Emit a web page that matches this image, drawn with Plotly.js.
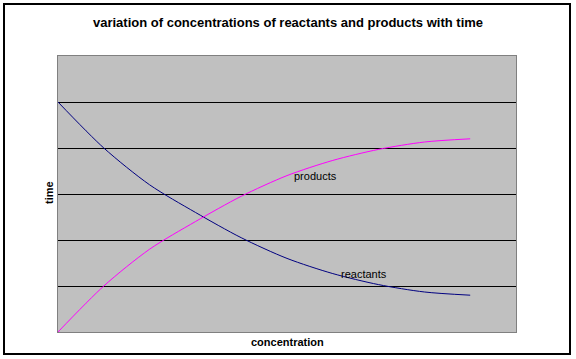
<!DOCTYPE html>
<html>
<head>
<meta charset="utf-8">
<script src="https://cdn.plot.ly/plotly-3.0.1.min.js"></script>
<style>
html,body{margin:0;padding:0;background:#fff;}
#chart{width:576px;height:359px;}
</style>
</head>
<body>
<div id="chart"></div>
<script>
// Data
var timeSteps = [0, 1, 2, 3, 4, 5, 6, 7, 8, 9];
var reactants = [5.0, 4.0, 3.2, 2.6, 2.05, 1.6, 1.27, 1.03, 0.87, 0.8];
var products  = [0.0, 1.0, 1.8, 2.4, 2.95, 3.4, 3.73, 3.97, 4.13, 4.2];
var gridVals = [1, 2, 3, 4, 5];

var W = 576, H = 359;
var L = 58, R = 60, T = 56, B = 27;
var pw = W - L - R, ph = H - T - B;
function px(x){ return (x - L) / pw; }
function py(y){ return (H - B - y) / ph; }

var font = "Liberation Sans, Arial, Helvetica, sans-serif";

var traces = [
  {x: timeSteps, y: reactants, type: 'scatter', mode: 'lines', name: 'reactants',
   line: {color: '#000080', width: 1, shape: 'spline', smoothing: 0.8}, hoverinfo: 'skip'},
  {x: timeSteps, y: products, type: 'scatter', mode: 'lines', name: 'products',
   line: {color: '#FF00FF', width: 1, shape: 'spline', smoothing: 0.8}, hoverinfo: 'skip'}
];

var layout = {
  width: W, height: H,
  margin: {l: L, r: R, t: T, b: B, pad: 0},
  paper_bgcolor: '#ffffff',
  plot_bgcolor: '#C0C0C0',
  showlegend: false,
  title: {text: '<b>variation of concentrations of reactants and products with time</b>',
          font: {family: font, size: 13, color: '#000'},
          x: 0.5, xanchor: 'center', xref: 'container', y: 1 - 22/H, yanchor: 'middle'},
  xaxis: {range: [0, 10], showgrid: false, zeroline: false, showticklabels: false,
          ticks: '', showline: true, mirror: true, linecolor: '#808080', linewidth: 1},
  yaxis: {range: [0, 6], tickvals: gridVals, showgrid: true, gridcolor: '#000000', gridwidth: 1,
          zeroline: false, showticklabels: false, ticks: '',
          showline: true, mirror: true, linecolor: '#808080', linewidth: 1},
  annotations: [
    {text: 'products', x: 5.63, y: 3.39, xref: 'x', yref: 'y', showarrow: false,
     xanchor: 'center', yanchor: 'middle', font: {family: font, size: 11, color: '#000'}},
    {text: 'reactants', x: 6.68, y: 1.26, xref: 'x', yref: 'y', showarrow: false,
     xanchor: 'center', yanchor: 'middle', font: {family: font, size: 11, color: '#000'}},
    {text: '<b>concentration</b>', x: px(287), y: py(341.5), xref: 'paper', yref: 'paper',
     showarrow: false, xanchor: 'center', yanchor: 'middle',
     font: {family: font, size: 11, color: '#000'}},
    {text: '<b>time</b>', x: px(49), y: py(193), xref: 'paper', yref: 'paper', textangle: -90,
     showarrow: false, xanchor: 'center', yanchor: 'middle',
     font: {family: font, size: 11, color: '#000'}}
  ],
  shapes: [
    {type: 'rect', xref: 'paper', yref: 'paper', x0: px(4), x1: px(570), y0: py(354), y1: py(4),
     line: {color: '#000', width: 2}, fillcolor: 'rgba(0,0,0,0)', layer: 'above'}
  ]
};

Plotly.newPlot('chart', traces, layout, {staticPlot: true, displayModeBar: false});
</script>
</body>
</html>
